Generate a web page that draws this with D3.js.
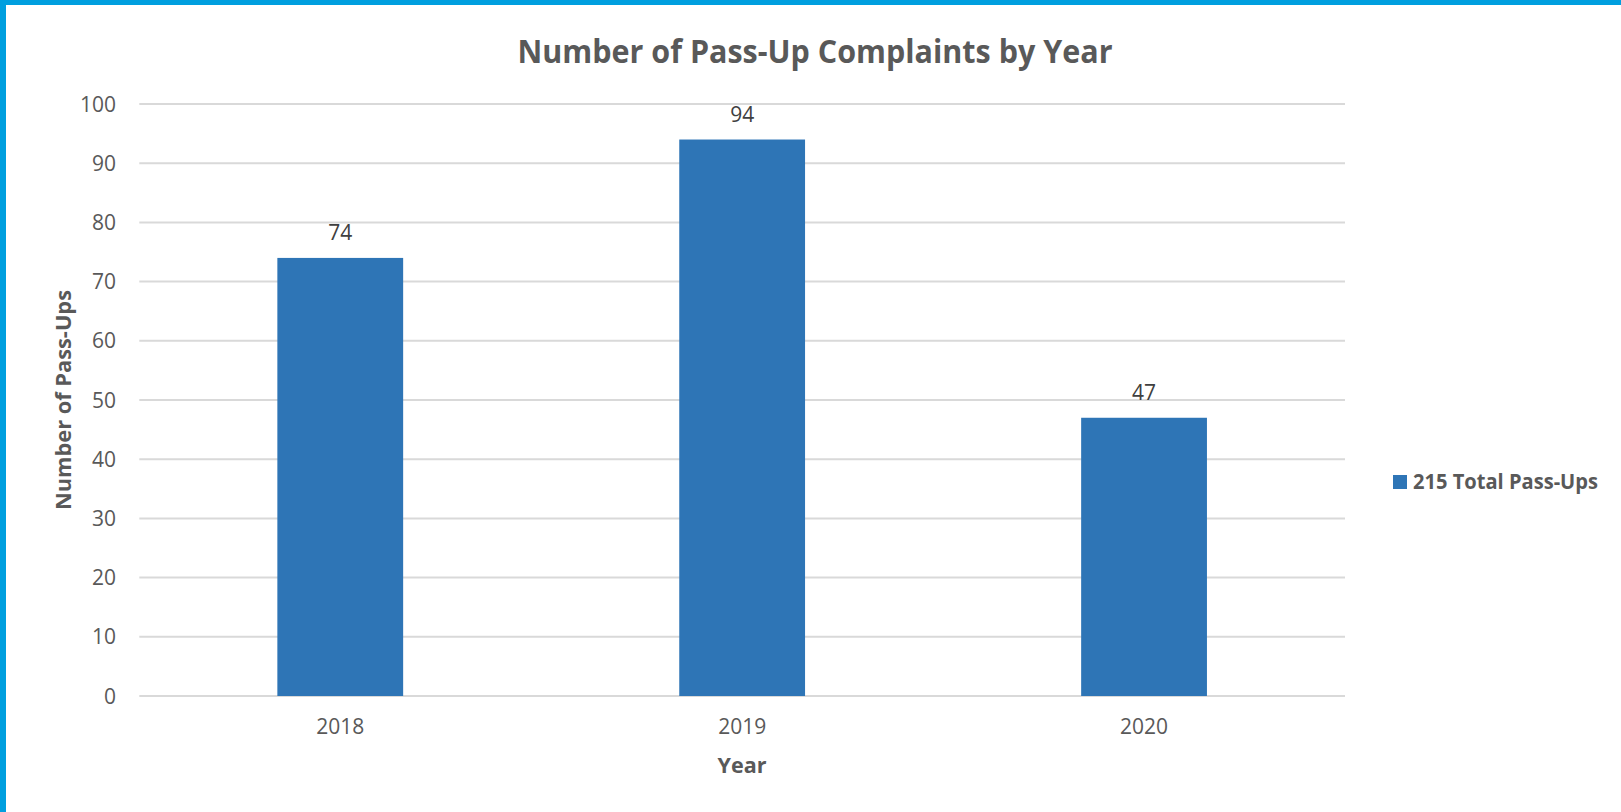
<!DOCTYPE html>
<html>
<head>
<meta charset="utf-8">
<script src="https://cdn.jsdelivr.net/npm/d3@7"></script>
<style>
  html, body { margin: 0; padding: 0; background: #fff; }
  #chart { width: 1621px; height: 812px; }
  text { font-family: "Open Sans", sans-serif; }
</style>
</head>
<body>
<div id="chart"></div>
<script>
(function () {
    'use strict';

    // --- DATA ---
    const years = ["2018", "2019", "2020"];
    const passUps = [74, 94, 47];
    const yTicks = [0, 10, 20, 30, 40, 50, 60, 70, 80, 90, 100];
    const seriesName = "215 Total Pass-Ups";

    const W = 1621, H = 812;
    const plot = { left: 139.3, right: 1345, top: 104, bottom: 696 };
    const textColor = "#595959";
    const barColor = "#2E75B6";

    const svg = d3.select("#chart").append("svg")
        .attr("width", W).attr("height", H);

    // frame: blue top and left edges
    svg.append("rect").attr("x", 0).attr("y", 0).attr("width", W).attr("height", 5).attr("fill", "#009FDF");
    svg.append("rect").attr("x", 0).attr("y", 0).attr("width", 6).attr("height", H).attr("fill", "#009FDF");

    // --- SCALES ---
    const x = d3.scaleBand()
        .domain(years)
        .range([plot.left, plot.right])
        .paddingInner(0.687)
        .paddingOuter(0.3435);

    const y = d3.scaleLinear().domain([0, 100]).range([plot.bottom, plot.top]);

    // gridlines
    svg.append("g").selectAll("line").data(yTicks).enter().append("line")
        .attr("x1", plot.left).attr("x2", plot.right)
        .attr("y1", d => y(d)).attr("y2", d => y(d))
        .attr("stroke", "#d9d9d9").attr("stroke-width", 2);

    // y tick labels
    svg.append("g").selectAll("text").data(yTicks).enter().append("text")
        .attr("x", 116).attr("y", d => y(d)).attr("dy", "0.36em")
        .attr("text-anchor", "end")
        .attr("font-size", 21).attr("fill", textColor)
        .text(d => d);

    // bars
    const data = years.map((yr, i) => ({ year: yr, value: passUps[i] }));
    svg.append("g").selectAll("rect").data(data).enter().append("rect")
        .attr("x", d => x(d.year))
        .attr("y", d => y(d.value))
        .attr("width", x.bandwidth())
        .attr("height", d => y(0) - y(d.value))
        .attr("fill", barColor);

    // value labels
    svg.append("g").selectAll("text").data(data).enter().append("text")
        .attr("x", d => x(d.year) + x.bandwidth() / 2)
        .attr("y", d => y(d.value) - 18)
        .attr("text-anchor", "middle")
        .attr("font-size", 21).attr("fill", "#404040")
        .text(d => d.value);

    // x tick labels
    svg.append("g").selectAll("text").data(years).enter().append("text")
        .attr("x", d => x(d) + x.bandwidth() / 2)
        .attr("y", 734)
        .attr("text-anchor", "middle")
        .attr("font-size", 21).attr("fill", textColor)
        .text(d => d);

    // title
    svg.append("text")
        .attr("x", 815).attr("y", 63)
        .attr("text-anchor", "middle")
        .attr("font-size", 32).attr("font-weight", "bold").attr("fill", textColor)
        .attr("textLength", 595).attr("lengthAdjust", "spacingAndGlyphs")
        .text("Number of Pass-Up Complaints by Year");

    // axis titles
    svg.append("text")
        .attr("x", 742).attr("y", 773)
        .attr("text-anchor", "middle")
        .attr("font-size", 22).attr("font-weight", "bold").attr("fill", textColor)
        .attr("textLength", 49).attr("lengthAdjust", "spacingAndGlyphs")
        .text("Year");

    svg.append("text")
        .attr("transform", `translate(70.5, ${(plot.top + plot.bottom) / 2}) rotate(-90)`)
        .attr("text-anchor", "middle")
        .attr("font-size", 22).attr("font-weight", "bold").attr("fill", textColor)
        .attr("textLength", 220).attr("lengthAdjust", "spacingAndGlyphs")
        .text("Number of Pass-Ups");

    // legend
    const legend = svg.append("g").attr("transform", "translate(1393, 475)");
    legend.append("rect").attr("width", 14).attr("height", 14).attr("fill", barColor);
    legend.append("text")
        .attr("x", 20).attr("y", 13.5)
        .attr("font-size", 21).attr("font-weight", "bold").attr("fill", textColor)
        .attr("textLength", 185).attr("lengthAdjust", "spacingAndGlyphs")
        .text(seriesName);
})();
</script>
</body>
</html>
